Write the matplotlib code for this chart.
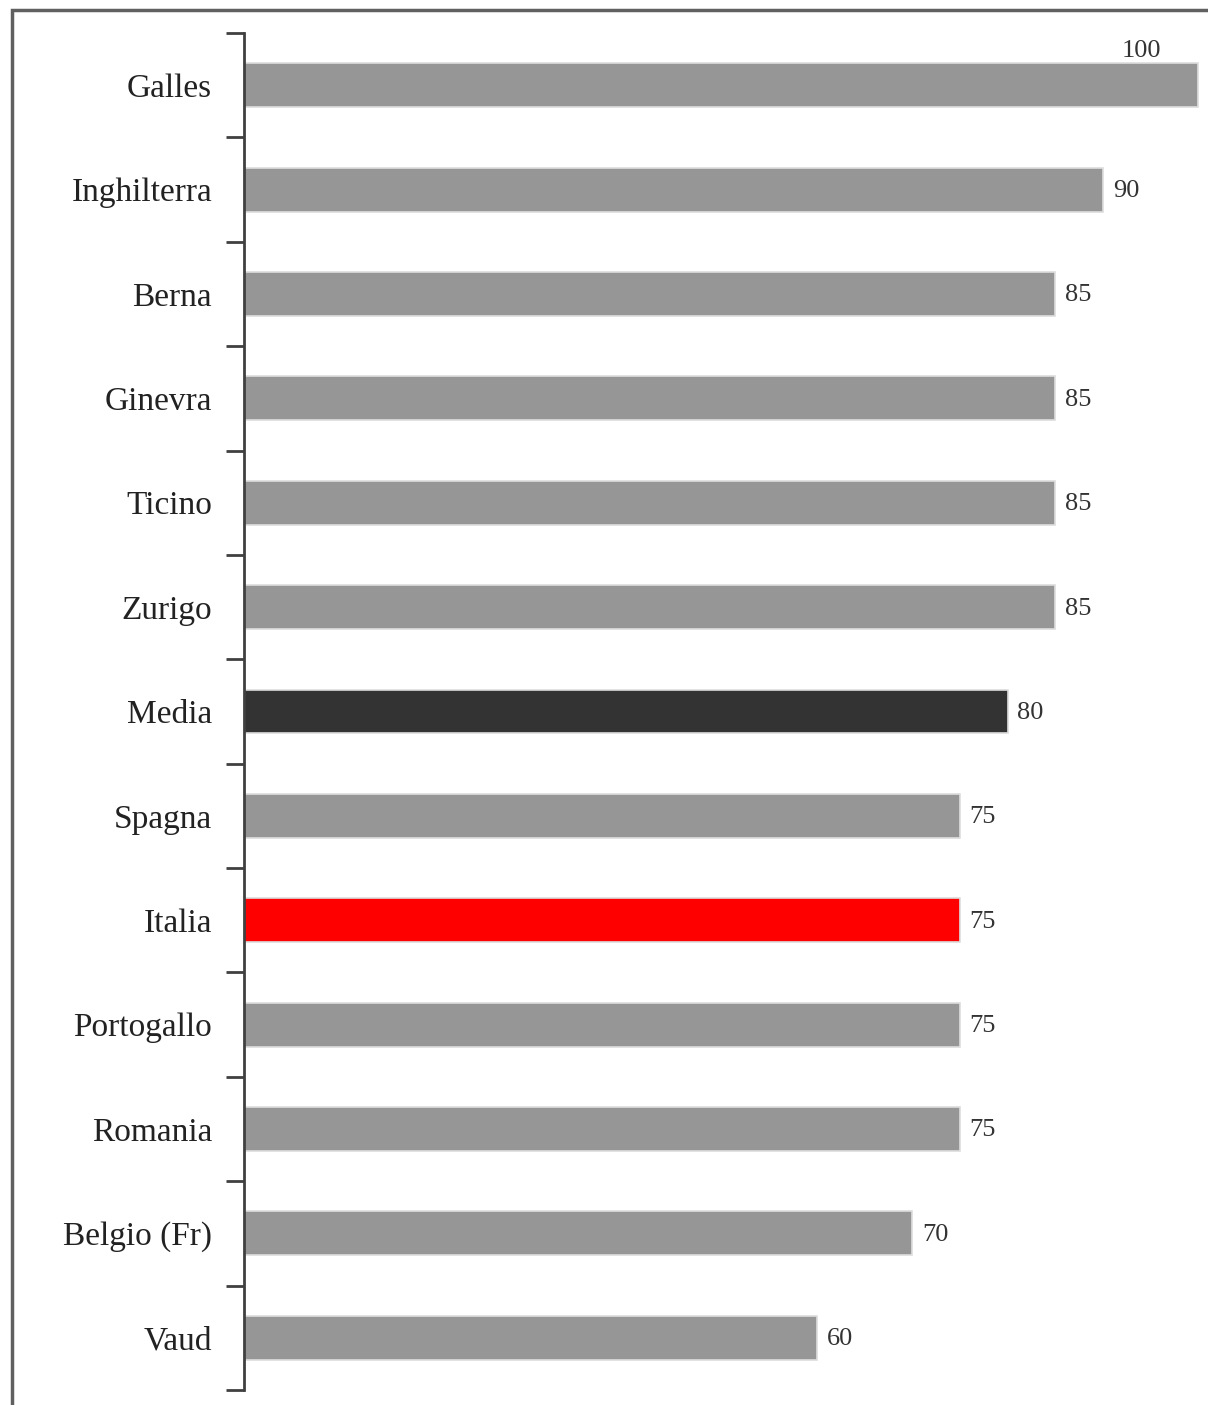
import matplotlib.pyplot as plt
from matplotlib.patches import Rectangle

# Dati
paesi = ['Galles', 'Inghilterra', 'Berna', 'Ginevra', 'Ticino', 'Zurigo', 'Media',
         'Spagna', 'Italia', 'Portogallo', 'Romania', 'Belgio (Fr)', 'Vaud']
valori = [100, 90, 85, 85, 85, 85, 80, 75, 75, 75, 75, 70, 60]
colori = ['#969696'] * len(paesi)
colori[paesi.index('Media')] = '#333333'
colori[paesi.index('Italia')] = '#ff0000'

plt.rcParams['font.family'] = ['Liberation Serif', 'DejaVu Serif']

fig = plt.figure(figsize=(12.08, 14.05), dpi=100)
ax = fig.add_axes([0.202, 0.0107, 0.798, 0.9658])

pos = list(range(len(paesi)))
ax.barh(pos, valori, height=0.42, color=colori, edgecolor='#dddddd', linewidth=1.2)

ax.set_xlim(0, 101)
ax.set_ylim(len(paesi) - 0.5, -0.5)

# Etichette dei valori
for i, v in enumerate(valori):
    if v >= 100:
        ax.annotate(str(v), (v, i - 0.21), xytext=(-41, 1), textcoords='offset points',
                    ha='center', va='bottom', fontsize=19, color='#333333')
    else:
        ax.annotate(str(v), (v, i), xytext=(7, -1), textcoords='offset points',
                    ha='left', va='center', fontsize=19, color='#333333')

# Asse verticale con tacche tra le categorie
ax.set_yticks(pos)
ax.set_yticklabels(paesi, fontsize=24, color='#222222')
ax.tick_params(axis='y', which='major', length=0, pad=23)
ax.set_yticks([p - 0.5 for p in pos] + [len(paesi) - 0.5], minor=True)
ax.tick_params(axis='y', which='minor', length=13, width=2, color='#404040')
ax.set_xticks([])
for s in ['top', 'right', 'bottom']:
    ax.spines[s].set_visible(False)
ax.spines['left'].set_color('#404040')
ax.spines['left'].set_linewidth(2)

# Cornice della figura
fig.patches.append(Rectangle((12 / 1208, -0.1), 1.2, 1 - 10 / 1405 + 0.1,
                             transform=fig.transFigure, fill=False,
                             edgecolor='#606060', linewidth=2.5))

fig.savefig('out.png', dpi=100)
